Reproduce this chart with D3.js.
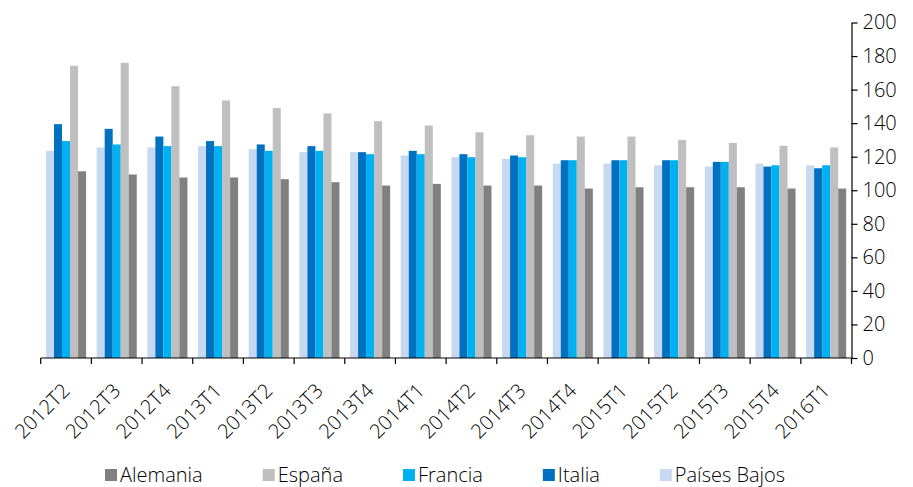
<!DOCTYPE html>
<html lang="es">
<head>
<meta charset="UTF-8">
<title>Bar chart</title>
<style>
  body { margin: 0; background: #fff; }
  svg text { font-family: "Open Sans", sans-serif; font-weight: 300; fill: #000; }
</style>
</head>
<body>
<svg id="chart" width="913" height="487"></svg>

<script src="https://cdn.jsdelivr.net/npm/d3@7"></script>
<script>

    // data
    let quarters = ["2012T2", "2012T3", "2012T4", "2013T1", "2013T2", "2013T3", "2013T4", "2014T1",
                    "2014T2", "2014T3", "2014T4", "2015T1", "2015T2", "2015T3", "2015T4", "2016T1"]

    let alemania    = [111.3, 109.4, 107.6, 107.6, 106.6, 104.8, 102.8, 103.8, 102.8, 102.8, 101.0, 101.8, 101.8, 101.8, 101.0, 101.0]
    let espana      = [174.2, 176.0, 162.0, 153.5, 149.0, 145.8, 141.2, 138.6, 134.6, 132.8, 132.0, 132.0, 130.0, 128.2, 126.5, 125.5]
    let francia     = [129.3, 127.3, 126.3, 126.3, 123.5, 123.5, 121.5, 121.5, 119.7, 119.7, 117.9, 117.9, 117.9, 116.9, 114.9, 114.9]
    let italia      = [139.4, 136.6, 132.0, 129.3, 127.3, 126.3, 122.7, 123.5, 121.5, 120.7, 117.9, 117.9, 117.9, 116.9, 114.1, 113.1]
    let paisesBajos = [123.5, 125.5, 125.5, 126.3, 124.5, 122.7, 122.7, 120.7, 119.7, 118.7, 115.9, 115.9, 114.9, 114.1, 115.9, 114.9]

    let yTicks = [0, 20, 40, 60, 80, 100, 120, 140, 160, 180, 200]

    // legend order
    let series = [
        { name: "Alemania",     values: alemania,    color: "#808080" },
        { name: "España",       values: espana,      color: "#bfbfbf" },
        { name: "Francia",      values: francia,     color: "#00b0f0" },
        { name: "Italia",       values: italia,      color: "#0070c0" },
        { name: "Países Bajos", values: paisesBajos, color: "#c6d9f1" }
    ]
    // order of the bars inside a group (left to right)
    let barOrder = ["Países Bajos", "Italia", "Francia", "España", "Alemania"]

    let svg = d3.select("#chart")
    let plotLeft = 40.7, plotRight = 851.5, plotTop = 22.5, plotBottom = 358

    let x = d3.scaleBand()
        .domain(quarters)
        .range([plotLeft, plotRight])
        .padding(0)

    let xInner = d3.scaleBand()
        .domain(barOrder)
        .range([0, x.bandwidth()])
        .paddingInner(0)
        .paddingOuter(0.66)

    let y = d3.scaleLinear()
        .domain([0, 200])
        .range([plotBottom, plotTop])

    // bars
    let groups = svg.append("g")
        .selectAll("g")
        .data(quarters)
        .join("g")
        .attr("transform", d => "translate(" + x(d) + ",0)")

    groups.selectAll("rect")
        .data((q, i) => barOrder.map(name => {
            let s = series.find(s => s.name === name)
            return { name: name, value: s.values[i], color: s.color }
        }))
        .join("rect")
        .attr("x", d => xInner(d.name))
        .attr("width", xInner.bandwidth())
        .attr("y", d => y(d.value))
        .attr("height", d => y(0) - y(d.value))
        .attr("fill", d => d.color)

    // x axis: baseline with ticks on category boundaries
    let xAxis = svg.append("g")
    xAxis.append("line")
        .attr("x1", plotLeft).attr("x2", plotRight)
        .attr("y1", plotBottom).attr("y2", plotBottom)
        .attr("stroke", "#000").attr("stroke-width", 1.2)
    let bounds = quarters.map(q => x(q)).concat([plotRight])
    xAxis.selectAll("line.tick")
        .data(bounds)
        .join("line")
        .attr("class", "tick")
        .attr("x1", d => d).attr("x2", d => d)
        .attr("y1", plotBottom).attr("y2", plotBottom + 6)
        .attr("stroke", "#000").attr("stroke-width", 1.2)

    xAxis.selectAll("text")
        .data(quarters)
        .join("text")
        .attr("transform", d => "translate(" + (x(d) + x.bandwidth() / 2 + 5) + "," + (plotBottom + 34) + ") rotate(-45)")
        .attr("text-anchor", "end")
        .attr("font-size", 20)
        .text(d => d)

    // y axis on the right
    let yAxis = d3.axisRight(y)
        .tickValues(yTicks)
        .tickSize(6)
        .tickSizeOuter(0)
        .tickPadding(5)

    let yg = svg.append("g")
        .attr("transform", "translate(" + plotRight + ",0)")
        .call(yAxis)
    yg.select(".domain").attr("stroke", "#000").attr("stroke-width", 1.2)
    yg.selectAll(".tick line").attr("stroke", "#000").attr("stroke-width", 1.2)
    yg.selectAll(".tick text")
        .attr("font-family", "Open Sans, sans-serif")
        .attr("font-weight", 300)
        .attr("font-size", 20)
        .attr("fill", "#111")

    // legend
    let legend = svg.append("g")
    let lx = 105, ly = 475, gap = 60
    series.forEach(s => {
        let item = legend.append("g").attr("transform", "translate(" + lx + "," + ly + ")")
        item.append("rect")
            .attr("x", 0).attr("y", -6)
            .attr("width", 12).attr("height", 12)
            .attr("fill", s.color)
        let t = item.append("text")
            .attr("x", 15)
            .attr("y", 7)
            .attr("font-size", 20)
            .text(s.name)
        lx += 15 + t.node().getComputedTextLength() + gap
    })

</script>
</body>
</html>
